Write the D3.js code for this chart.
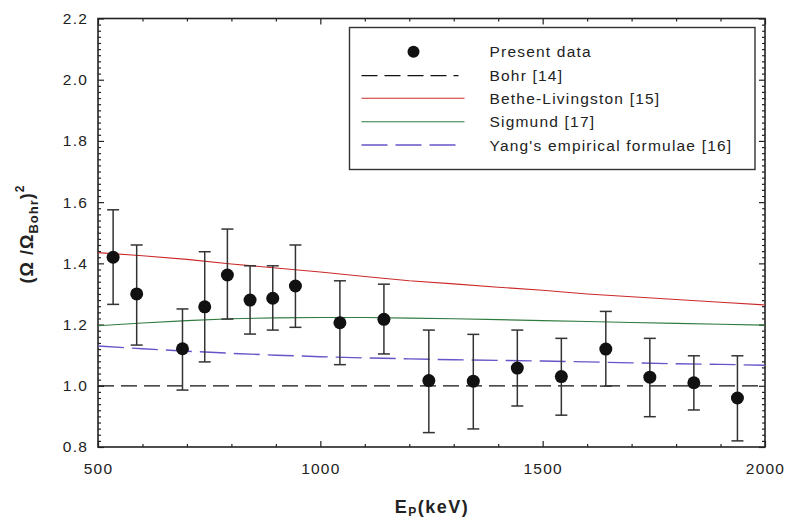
<!DOCTYPE html>
<html>
<head>
<meta charset="utf-8">
<script src="https://cdn.jsdelivr.net/npm/d3@7"></script>
<style>
  body { margin: 0; background: #fff; }
  text { font-family: "Liberation Sans", Arial, sans-serif; fill: #222; }
</style>
</head>
<body>
<div id="chart-area"></div>
<script>
// Measured points (E_p in keV, ratio with error bar ends)
const energy = [534, 587, 690, 740, 791, 842, 893, 944, 1044, 1143, 1244, 1344, 1443, 1542, 1642, 1741, 1840, 1938];
const ratio = [1.420, 1.300, 1.121, 1.258, 1.362, 1.280, 1.286, 1.326, 1.206, 1.217, 1.017, 1.015, 1.058, 1.030, 1.120, 1.028, 1.010, 0.960];
const errHigh = [1.575, 1.460, 1.251, 1.438, 1.512, 1.392, 1.392, 1.460, 1.343, 1.332, 1.182, 1.168, 1.182, 1.155, 1.243, 1.155, 1.098, 1.098];
const errLow = [1.266, 1.133, 0.986, 1.078, 1.218, 1.169, 1.182, 1.191, 1.069, 1.104, 0.847, 0.859, 0.934, 0.904, 0.999, 0.899, 0.921, 0.820];

// Theory curves
const theoryEnergy = [500, 600, 700, 800, 900, 1000, 1100, 1200, 1300, 1400, 1500, 1600, 1700, 1800, 1900, 2000];
const bohr = [1, 1, 1, 1, 1, 1, 1, 1, 1, 1, 1, 1, 1, 1, 1, 1];
const betheLivingston = [1.435, 1.425, 1.413, 1.398, 1.385, 1.372, 1.357, 1.343, 1.333, 1.322, 1.312, 1.300, 1.291, 1.282, 1.273, 1.264];
const sigmund = [1.196, 1.205, 1.213, 1.219, 1.222, 1.223, 1.223, 1.221, 1.219, 1.216, 1.213, 1.210, 1.207, 1.204, 1.201, 1.198];
const yang = [1.130, 1.121, 1.113, 1.106, 1.100, 1.095, 1.091, 1.088, 1.085, 1.083, 1.081, 1.078, 1.075, 1.072, 1.070, 1.067];

const xTicks = [500, 1000, 1500, 2000];
const yTicks = [0.8, 1.0, 1.2, 1.4, 1.6, 1.8, 2.0, 2.2];

const legendLabels = ['Present data', 'Bohr [14]', 'Bethe-Livingston [15]', 'Sigmund [17]', "Yang's empirical formulae [16]"];

let svgWidth = 785;
let svgHeight = 520;
let margin = { left: 98, right: 20, top: 18.5, bottom: 73 };
let width = svgWidth - margin.left - margin.right;
let height = svgHeight - margin.top - margin.bottom;

let svg = d3.select('#chart-area')
    .append('svg')
        .attr('width', svgWidth)
        .attr('height', svgHeight);
let g = svg.append('g')
    .attr('transform', 'translate(' + margin.left + ',' + margin.top + ')');

// Scales
let x = d3.scaleLinear().domain([500, 2000]).range([0, width]);
let y = d3.scaleLinear().domain([0.8, 2.2]).range([height, 0]);

let xMinor = d3.range(500, 2001, 100).filter(d => d % 500 !== 0);
let yMinor = d3.range(0, 71).map(i => +(0.8 + i * 0.02).toFixed(2))
    .filter(d => Math.round(d * 100) % 20 !== 0);

function styleAxis(sel) {
    sel.select('.domain').remove();
    sel.selectAll('line').attr('stroke', '#222').attr('stroke-width', 1.2);
    sel.selectAll('text')
        .attr('font-size', '15.5px')
        .attr('letter-spacing', '1.2px')
        .style('font-family', '"Liberation Sans", Arial, sans-serif')
        .attr('fill', '#222');
}

// Bottom axis
g.append('g')
    .attr('transform', 'translate(0,' + height + ')')
    .call(d3.axisBottom(x).tickValues(xTicks).tickFormat(d3.format('d'))
        .tickSizeInner(-6).tickSizeOuter(0).tickPadding(16))
    .call(styleAxis);
g.append('g')
    .attr('transform', 'translate(0,' + height + ')')
    .call(d3.axisBottom(x).tickValues(xMinor).tickFormat('').tickSizeInner(-3).tickSizeOuter(0))
    .call(styleAxis);
// Top axis
g.append('g')
    .call(d3.axisTop(x).tickValues(xTicks).tickFormat('').tickSizeInner(-6).tickSizeOuter(0))
    .call(styleAxis);
g.append('g')
    .call(d3.axisTop(x).tickValues(xMinor).tickFormat('').tickSizeInner(-3).tickSizeOuter(0))
    .call(styleAxis);
// Left axis
g.append('g')
    .call(d3.axisLeft(y).tickValues(yTicks).tickFormat(d3.format('.1f'))
        .tickSizeInner(-6).tickSizeOuter(0).tickPadding(10))
    .call(styleAxis);
g.append('g')
    .call(d3.axisLeft(y).tickValues(yMinor).tickFormat('').tickSizeInner(-3).tickSizeOuter(0))
    .call(styleAxis);
// Right axis
g.append('g')
    .attr('transform', 'translate(' + width + ',0)')
    .call(d3.axisRight(y).tickValues(yTicks).tickFormat('').tickSizeInner(-6).tickSizeOuter(0))
    .call(styleAxis);
g.append('g')
    .attr('transform', 'translate(' + width + ',0)')
    .call(d3.axisRight(y).tickValues(yMinor).tickFormat('').tickSizeInner(-3).tickSizeOuter(0))
    .call(styleAxis);

// Frame
g.append('rect')
    .attr('width', width)
    .attr('height', height)
    .attr('fill', 'none')
    .attr('stroke', '#222')
    .attr('stroke-width', 1.6);

// Theory lines
let curves = [
    { values: bohr, color: '#111', dash: '16,7', w: 1.2 },
    { values: betheLivingston, color: '#cc2a2a', dash: null, w: 1.1 },
    { values: sigmund, color: '#2f7a3f', dash: null, w: 1.1 },
    { values: yang, color: '#6655c8', dash: '26,8', w: 1.4 }
];
let line = d3.line()
    .x(function(d) { return x(d[0]); })
    .y(function(d) { return y(d[1]); });

curves.forEach(function(c) {
    g.append('path')
        .datum(theoryEnergy.map(function(e, i) { return [e, c.values[i]]; }))
        .attr('fill', 'none')
        .attr('stroke', c.color)
        .attr('stroke-width', c.w)
        .attr('stroke-dasharray', c.dash)
        .attr('d', line);
});

// Error bars
let points = energy.map(function(e, i) {
    return { e: e, v: ratio[i], lo: errLow[i], hi: errHigh[i] };
});
let bars = g.selectAll('.err').data(points).enter().append('g')
    .attr('class', 'err')
    .attr('stroke', '#333')
    .attr('stroke-width', 1.5);
bars.append('line')
    .attr('x1', d => x(d.e)).attr('x2', d => x(d.e))
    .attr('y1', d => y(d.lo)).attr('y2', d => y(d.hi));
bars.append('line')
    .attr('x1', d => x(d.e) - 6).attr('x2', d => x(d.e) + 6)
    .attr('y1', d => y(d.lo)).attr('y2', d => y(d.lo));
bars.append('line')
    .attr('x1', d => x(d.e) - 6).attr('x2', d => x(d.e) + 6)
    .attr('y1', d => y(d.hi)).attr('y2', d => y(d.hi));

g.selectAll('circle.pt').data(points).enter().append('circle')
    .attr('class', 'pt')
    .attr('cx', d => x(d.e))
    .attr('cy', d => y(d.v))
    .attr('r', 6.5)
    .attr('fill', '#111');

// Legend
let legend = svg.append('g').attr('transform', 'translate(349.5,27.5)');
legend.append('rect')
    .attr('width', 405.5)
    .attr('height', 142)
    .attr('fill', '#fff')
    .attr('stroke', '#333')
    .attr('stroke-width', 1.4);

let rowY = [24.2, 48.2, 70.8, 94.2, 117.5];
legend.append('circle')
    .attr('cx', 64).attr('cy', rowY[0]).attr('r', 6).attr('fill', '#111');
curves.forEach(function(c, i) {
    legend.append('line')
        .attr('x1', 12).attr('x2', c.dash ? 109 : 115)
        .attr('y1', rowY[i + 1]).attr('y2', rowY[i + 1])
        .attr('stroke', c.color)
        .attr('stroke-width', c.w)
        .attr('stroke-dasharray', c.dash);
});
legendLabels.forEach(function(label, i) {
    legend.append('text')
        .attr('x', 140)
        .attr('y', rowY[i] + 5.5)
        .attr('font-size', '15.5px')
        .attr('letter-spacing', '1.2px')
        .text(label);
});

// Axis titles
let xTitle = svg.append('text')
    .attr('x', 432)
    .attr('y', 513)
    .attr('text-anchor', 'middle')
    .attr('font-size', '18px')
    .attr('font-weight', 'bold')
    .attr('letter-spacing', '1.5px');
xTitle.append('tspan').text('E');
xTitle.append('tspan').attr('font-size', '12px').attr('dy', 3).text('P');
xTitle.append('tspan').attr('dy', -3).text('(keV)');

let yTitle = svg.append('text')
    .attr('transform', 'translate(33,234) rotate(-90)')
    .attr('text-anchor', 'middle')
    .attr('font-size', '18px')
    .attr('font-weight', 'bold')
    .attr('letter-spacing', '1px');
yTitle.append('tspan').text('(Ω /Ω');
yTitle.append('tspan').attr('font-size', '13px').attr('dy', 5).text('Bohr');
yTitle.append('tspan').attr('dy', -5).text(')');
yTitle.append('tspan').attr('font-size', '12px').attr('dy', -9).text('2');
</script>
</body>
</html>
